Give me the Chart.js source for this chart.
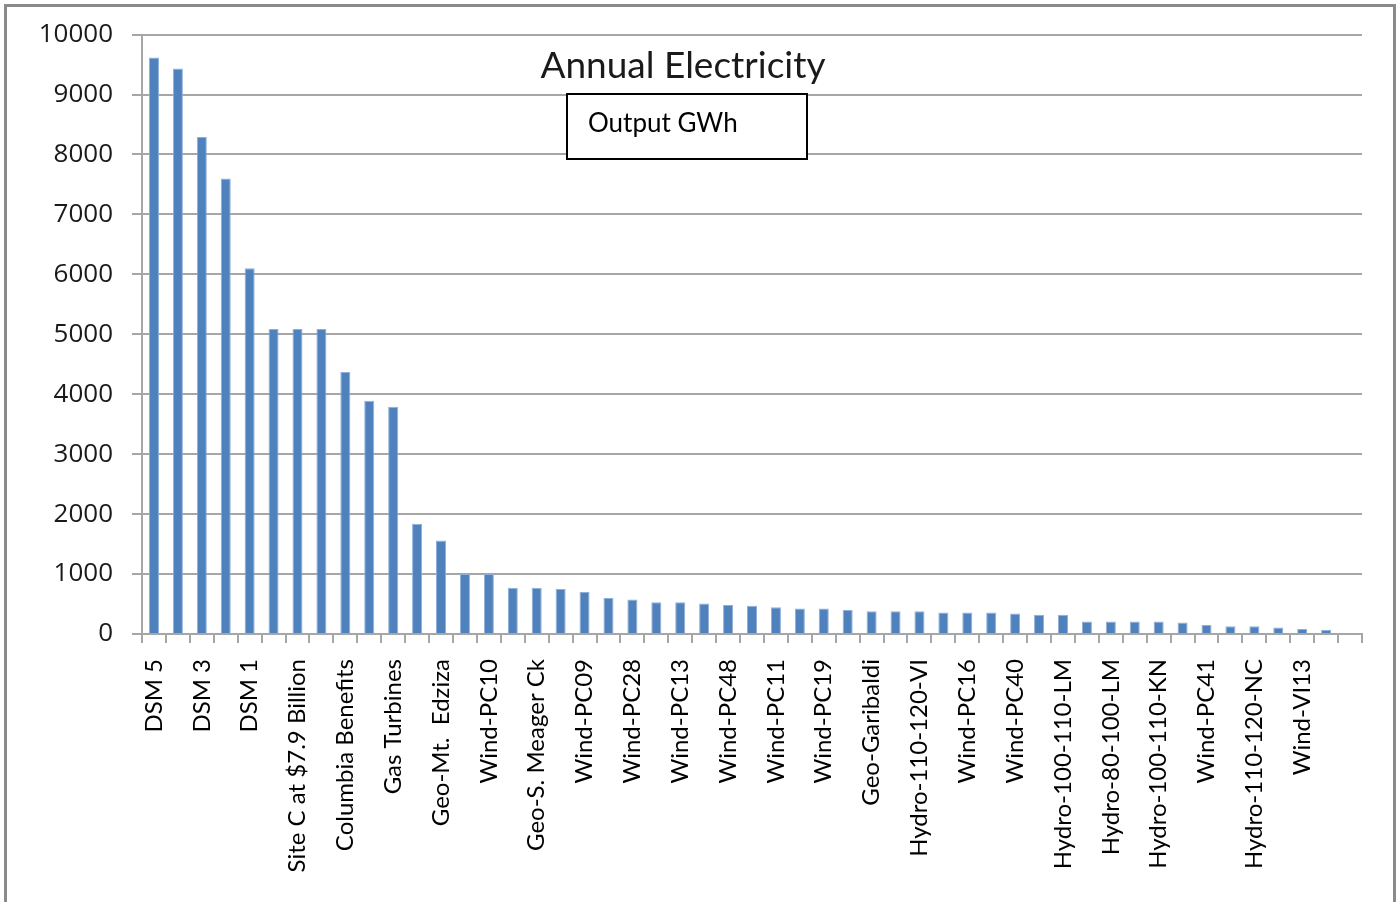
<!DOCTYPE html>
<html>
<head>
<meta charset="utf-8">
<title>Annual Electricity</title>
<script src="https://cdn.jsdelivr.net/npm/chart.js@4.4.1/dist/chart.umd.min.js"></script>
<style>
  html, body { margin: 0; padding: 0; background: #ffffff; }
  #wrap { position: relative; width: 1400px; height: 902px; }
  canvas { display: block; }
</style>
</head>
<body>
<div id="wrap"><canvas id="chart" width="1400" height="902"></canvas></div>
<script>
// Project names; every second bar is left unnamed on the axis
const categories = [
  'DSM 5', '', 'DSM 3', '', 'DSM 1', '', 'Site C at $7.9 Billion', '',
  'Columbia Benefits', '', 'Gas Turbines', '', 'Geo-Mt.  Edziza', '',
  'Wind-PC10', '', 'Geo-S. Meager Ck', '', 'Wind-PC09', '', 'Wind-PC28', '',
  'Wind-PC13', '', 'Wind-PC48', '', 'Wind-PC11', '', 'Wind-PC19', '',
  'Geo-Garibaldi', '', 'Hydro-110-120-VI', '', 'Wind-PC16', '', 'Wind-PC40', '',
  'Hydro-100-110-LM', '', 'Hydro-80-100-LM', '', 'Hydro-100-110-KN', '',
  'Wind-PC41', '', 'Hydro-110-120-NC', '', 'Wind-VI13', '', ''
];

// Annual output per project, GWh
const outputGWh = [
  9620, 9435, 8290, 7600, 6100, 5090, 5090, 5090, 4370, 3890,
  3790, 1840, 1560, 1000, 1000, 770, 770, 750, 700, 600,
  575, 530, 530, 510, 485, 470, 445, 425, 425, 400,
  380, 380, 380, 360, 360, 360, 340, 320, 320, 210,
  210, 210, 210, 190, 150, 130, 130, 110, 85, 70,
  null
];

// Value axis ticks
const yTicks = [0, 1000, 2000, 3000, 4000, 5000, 6000, 7000, 8000, 9000, 10000];

const titleText = 'Annual Electricity';
const boxText = 'Output GWh';

const GRID = '#a6a6a6';

// White page, outer frame, title and the caption box
const decorations = {
  id: 'decorations',
  beforeDraw(chart) {
    const ctx = chart.ctx;
    ctx.save();
    ctx.fillStyle = '#ffffff';
    ctx.fillRect(0, 0, chart.width, chart.height);
    ctx.restore();
  },
  afterDraw(chart) {
    const ctx = chart.ctx;
    ctx.save();
    // frame
    ctx.strokeStyle = '#8a8a8a';
    ctx.lineWidth = 3;
    ctx.strokeRect(5.5, 5.5, 1389, 1000);
    // title
    ctx.fillStyle = '#1a1a1a';
    ctx.font = '37px Lato';
    ctx.textAlign = 'center';
    ctx.textBaseline = 'alphabetic';
    ctx.fillText(titleText, 683, 78);
    // caption box
    ctx.fillStyle = '#ffffff';
    ctx.fillRect(567, 94, 240, 65);
    ctx.strokeStyle = '#000000';
    ctx.lineWidth = 2;
    ctx.strokeRect(567, 94, 240, 65);
    ctx.fillStyle = '#000000';
    ctx.font = '26px Lato';
    ctx.textAlign = 'left';
    ctx.fillText(boxText, 588, 132);
    ctx.restore();
  }
};

new Chart(document.getElementById('chart'), {
  type: 'bar',
  data: {
    labels: categories,
    datasets: [{
      data: outputGWh,
      backgroundColor: '#4f81bd',
      borderColor: '#8eb0da',
      borderWidth: 1,
      categoryPercentage: 1.0,
      barPercentage: 0.42
    }]
  },
  options: {
    responsive: false,
    animation: false,
    layout: { padding: { left: 36, top: 34, right: 38, bottom: 0 } },
    plugins: {
      legend: { display: false },
      title: { display: false },
      tooltip: { enabled: false }
    },
    scales: {
      x: {
        offset: true,
        afterFit(scale) { scale.height = 268; },
        grid: {
          offset: true,
          drawOnChartArea: false,
          drawTicks: true,
          tickLength: 9,
          color: GRID,
          lineWidth: 2
        },
        border: { display: true, color: GRID, width: 2 },
        ticks: {
          autoSkip: false,
          minRotation: 90,
          maxRotation: 90,
          padding: 16,
          color: '#000000',
          font: { family: 'Lato', size: 24 }
        }
      },
      y: {
        min: 0,
        max: 10000,
        afterFit(scale) { scale.width = 106; },
        afterBuildTicks(scale) { scale.ticks = yTicks.map(v => ({ value: v })); },
        grid: {
          drawTicks: true,
          tickLength: 10,
          color: GRID,
          lineWidth: 2
        },
        border: { display: true, color: GRID, width: 2 },
        ticks: {
          padding: 19,
          color: '#1a1a1a',
          font: { family: '"Open Sans"', size: 26 },
          callback: (v) => String(v)
        }
      }
    }
  },
  plugins: [decorations]
});
</script>
</body>
</html>
